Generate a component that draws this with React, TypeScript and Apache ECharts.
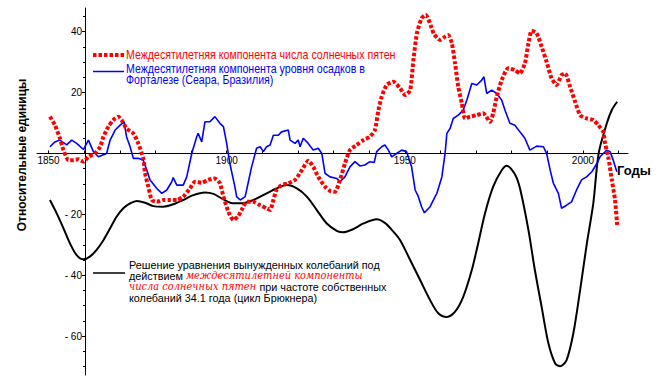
import React, { useEffect, useRef } from "react";
import * as echarts from "echarts";

// ---- Data ----
const sunYears = [
  1850.4, 1851.8, 1853.2, 1854.2, 1855.6, 1857.0, 1858.4, 1859.8, 1861.2, 1863.0,
  1864.5, 1865.4, 1866.8, 1868.2, 1869.6, 1870.5, 1871.9, 1873.8, 1875.2, 1876.6,
  1877.1, 1878.0, 1879.0, 1880.4, 1882.2, 1884.1, 1886.0, 1887.8, 1889.7, 1891.1,
  1893.0, 1894.8, 1896.7, 1898.1, 1899.1, 1900.5, 1901.9, 1903.3, 1904.2, 1905.6,
  1907.5, 1909.4, 1911.2, 1912.2, 1913.1, 1914.0, 1915.4, 1917.3, 1919.2, 1921.1,
  1922.9, 1924.3, 1925.7, 1927.6, 1929.0, 1930.4, 1931.8, 1933.2, 1934.6, 1936.5,
  1938.4, 1940.2, 1941.6, 1942.6, 1943.5, 1944.9, 1946.8, 1948.7, 1950.1, 1951.5,
  1952.4, 1953.4, 1954.7, 1955.9, 1957.3, 1958.2, 1959.9, 1961.3, 1962.2, 1963.2,
  1964.1, 1965.0, 1966.0, 1966.9, 1968.3, 1970.2, 1972.0, 1973.9, 1974.8, 1975.8,
  1977.2, 1979.0, 1980.9, 1982.3, 1983.7, 1984.7, 1985.6, 1987.0, 1988.4, 1989.8,
  1991.2, 1992.6, 1994.0, 1995.0, 1996.4, 1997.8, 1999.2, 2001.0, 2002.9, 2004.3,
  2005.7, 2006.2, 2007.1, 2008.1, 2009.0, 2009.6,
];
const sunValues = [
  12.1, 9.3, 5.0, 1.1, -2.2, -2.2, -1.9, -2.7, -1.1, 0,
  2.2, 5.5, 8.8, 11, 12.1, 11, 8.2, 6.6, 3.3, -1.6,
  -6.5, -10.9, -15.3, -15.9, -15.3, -15.3, -15.3, -14.2, -11.5, -9.3,
  -9.6, -8.7, -8.2, -9.8, -14.2, -19.2, -21.9, -20.5, -18.6, -15.9,
  -15.9, -17, -18, -18.6, -15.3, -12, -10.4, -9.8, -8.7, -5.5,
  -2.4, -4.4, -7.7, -10.9, -12.3, -12.6, -8.7, -3.3, 1.1, 2.8,
  4.4, 5.5, 7.7, 14.3, 18.6, 22.5, 23.6, 21.4, 19.2, 20.8,
  30.7, 39.5, 44.4, 45.5, 42, 39.2, 37.3, 38.4, 38.9, 36.2,
  29.6, 21.9, 16.5, 11.5, 12.1, 12.6, 13.2, 10.4, 13.2, 18.6,
  24.1, 28, 27.4, 26.3, 29.6, 36.2, 40.3, 39.5, 35.1, 30.1,
  24.7, 22.5, 25.8, 26.3, 21.9, 17, 12.6, 11.5, 11, 9.3,
  7.1, 3.3, -1.1, -8.7, -15.3, -23.5,
];

const rainYears = [
  1850.4, 1851.8, 1853.2, 1855.1, 1856.5, 1857.9, 1859.8, 1861.2, 1862.6, 1864.0,
  1866.3, 1867.3, 1868.7, 1870.1, 1871.2, 1871.9, 1872.9, 1873.8, 1875.2, 1876.6,
  1877.6, 1878.5, 1880.4, 1881.8, 1883.2, 1884.6, 1885.0, 1886.0, 1887.8, 1888.8,
  1890.2, 1891.6, 1892.0, 1893.0, 1893.9, 1895.3, 1896.7, 1898.1, 1899.1, 1900.0,
  1900.9, 1902.3, 1902.8, 1903.8, 1905.2, 1906.1, 1907.0, 1908.4, 1909.4, 1910.3,
  1911.2, 1912.2, 1913.1, 1914.5, 1915.4, 1917.3, 1917.8, 1919.2, 1920.1, 1920.6,
  1921.5, 1922.9, 1924.3, 1925.7, 1926.7, 1927.6, 1929.0, 1930.9, 1931.8, 1933.2,
  1934.6, 1936.0, 1937.4, 1938.8, 1940.2, 1941.4, 1942.1, 1943.5, 1944.4, 1945.4,
  1946.3, 1947.7, 1949.1, 1950.5, 1951.9, 1952.9, 1953.8, 1954.7, 1955.5, 1957.1,
  1958.5, 1959.0, 1960.4, 1961.3, 1961.8, 1962.7, 1963.6, 1965.0, 1966.4, 1967.4,
  1968.8, 1970.2, 1971.6, 1972.2, 1973.0, 1974.4, 1975.8, 1977.2, 1978.1, 1979.5,
  1980.9, 1982.3, 1983.7, 1985.1, 1987.0, 1988.9, 1989.8, 1990.8, 1991.7, 1993.1,
  1994.0, 1995.4, 1996.8, 1998.2, 1999.6, 2001.0, 2002.5, 2003.9, 2004.8, 2005.7,
  2006.7, 2007.6, 2008.5, 2009.5,
];
const rainValues = [
  2.2, 3.8, 4.4, 2.8, 4.4, 3.3, 1.3, 4.4, 0.6, -1.1,
  0, 4.4, 7.7, 9.3, 10.4, 5.5, 2.2, -1.6, -1.6, -2.2,
  -5.5, -8.7, -11.5, -13.1, -12, -9.3, -7.9, -10.4, -10.4, -7.7,
  0, 5.5, 6.6, 3.8, 10.4, 10.4, 12.1, 9.9, 8.8, 3.3,
  -3.3, -10.9, -14.2, -15.3, -14.2, -9.3, -4.4, 1.7, 2.2, 0.6,
  2.2, 2.8, 6, 6, 7.1, 7.7, 4.4, 3.3, 4.4, 2.2,
  5, 3.3, 1.1, 1.7, 0, -6.5, -7.7, -8.2, -9.3, -7.7,
  -4.4, -2.7, -4.1, -3.8, -2.7, -3, 0.6, 2.2, 2.8, 1.1,
  -1.1, 0, 1.1, 0.6, -4.4, -12, -14.2, -17.5, -19.5, -17.5,
  -14.2, -13.1, -7.7, 0, 6.6, 8.2, 11.5, 12.6, 14.3, 17.5,
  23, 22.5, 24.1, 25.2, 19.7, 20.8, 19.7, 17.5, 14.3, 9.9,
  9.3, 7.1, 5, 1.1, 2.4, 2.2, 0, -5.5, -9.8, -13.1,
  -18, -17, -15.9, -12, -8.7, -7.7, -6, -3.3, -1.1, 0,
  1.1, 0.6, -2.2, -6,
];

const modelYears = [
  1850.4, 1852.3, 1854.2, 1856.0, 1857.9, 1859.8, 1861.6, 1863.5, 1865.4, 1867.3,
  1869.1, 1871.0, 1872.9, 1874.8, 1877.1, 1879.4, 1882.2, 1885.0, 1887.8, 1890.6,
  1893.9, 1896.3, 1899.1, 1901.9, 1904.2, 1907.5, 1911.2, 1914.0, 1916.9, 1919.7,
  1922.5, 1925.3, 1928.1, 1930.9, 1932.7, 1935.5, 1938.4, 1942.1, 1944.4, 1946.8,
  1948.7, 1951.5, 1954.3, 1957.1, 1959.4, 1961.8, 1964.1, 1966.4, 1968.8, 1970.6,
  1972.5, 1974.8, 1977.2, 1978.6, 1979.8, 1981.4, 1982.6, 1984.7, 1986.5, 1988.4,
  1990.3, 1992.2, 1993.6, 1995.4, 1997.3, 1999.2, 2001.1, 2002.9, 2004.4, 2006.7,
  2008.1, 2009.6,
];
const modelValues = [
  -15.3, -19.7, -24.6, -29.5, -33.4, -34.8, -33.9, -31.7, -28.5, -24.6,
  -20.8, -18, -16.4, -15.6, -16.2, -17.3, -17.5, -16.7, -15.3, -13.7,
  -12.8, -13.3, -15.1, -16.4, -16.4, -15.3, -13.1, -11.5, -10.4, -11.5,
  -14.2, -18.6, -23, -25.4, -25.9, -24.9, -23, -21.6, -22.8, -25.7,
  -28.5, -35, -41.6, -48.2, -52.5, -53.7, -52, -47.1, -38.3, -29.5,
  -19.7, -10.9, -5.5, -4.0, -5.0, -8.0, -12.8, -25.2, -38.3, -50.4,
  -62.4, -69, -69.9, -67.9, -59.1, -44.9, -29.5, -16.4, 0, 9.9,
  14.3, 17,
];

const xTickYears = [1850, 1860, 1870, 1880, 1890, 1900, 1910, 1920, 1930, 1940, 1950, 1960, 1970, 1980, 1990, 2000, 2010];
const xLabelYears = [1850, 1900, 1950, 2000];
const yMajorTicks = [-60, -40, -20, 0, 20, 40];
const yLabelValues = [-60, -40, -20, 20, 40];
const yMinorTicks = [-70, -65, -55, -50, -45, -35, -30, -25, -15, -10, -5, 5, 10, 15, 25, 30, 35, 45];

const legendSun = "Междесятилетняя компонента числа солнечных пятен";
const legendRain = "Междесятилетняя компонента уровня осадков в\nФорталезе (Сеара, Бразилия)";
const yName = "Относительные единицы";
const xName = "Годы";

const zip = (xs: number[], ys: number[]) => xs.map((x, i) => [x, ys[i]]);

const SANS = '"Liberation Sans", Arial, sans-serif';

function buildOption() {
  const yBase = {
    type: "value",
    position: "left",
    min: -72.8,
    max: 47.8,
    offset: -48,
    splitLine: { show: false },
  };
  return {
    animation: false,
    backgroundColor: "#ffffff",
    grid: { left: 37, right: 36, top: 8, bottom: 6, containLabel: false },
    xAxis: {
      type: "value",
      position: "bottom",
      min: 1846.77,
      max: 2012.64,
      offset: -221.5,
      axisLine: { show: true, onZero: false, lineStyle: { color: "#000", width: 1 } },
      axisTick: {
        show: true,
        inside: true,
        length: 3,
        customValues: xTickYears,
        lineStyle: { color: "#000", width: 1 },
      },
      axisLabel: {
        customValues: xLabelYears,
        margin: 2,
        fontSize: 10,
        fontFamily: SANS,
        color: "#000",
        formatter: (v: number) => String(v),
      },
      splitLine: { show: false },
    },
    yAxis: [
      {
        ...yBase,
        axisLine: { show: true, onZero: false, lineStyle: { color: "#000", width: 1 } },
        axisTick: { show: true, length: 3, customValues: yMajorTicks, lineStyle: { color: "#000" } },
        axisLabel: {
          customValues: yLabelValues,
          margin: 3,
          fontSize: 10,
          fontFamily: SANS,
          color: "#000",
          formatter: (v: number) => (v < 0 ? "- " + Math.abs(v) : String(v)),
        },
      },
      {
        ...yBase,
        axisLine: { show: false, onZero: false },
        axisTick: { show: true, length: 2, customValues: yMinorTicks, lineStyle: { color: "#000" } },
        axisLabel: { show: false },
      },
    ],
    series: [
      {
        type: "line",
        data: zip(modelYears, modelValues),
        showSymbol: false,
        smooth: 0.3,
        lineStyle: { color: "#000000", width: 2 },
        z: 2,
      },
      {
        type: "line",
        data: zip(rainYears, rainValues),
        showSymbol: false,
        lineStyle: { color: "#0000ff", width: 1.6 },
        z: 3,
      },
      {
        type: "line",
        data: zip(sunYears, sunValues),
        showSymbol: false,
        smooth: 0.2,
        lineStyle: { color: "#ff0000", width: 4, type: [3.5, 2] },
        z: 4,
      },
    ],
    graphic: [
      {
        type: "line",
        shape: { x1: 93, y1: 55, x2: 125, y2: 55 },
        style: { stroke: "#ff0000", lineWidth: 4, lineDash: [3.5, 2] },
      },
      {
        type: "text",
        x: 126,
        y: 55,
        scaleX: 0.885,
        style: { text: legendSun, fill: "#ff0000", fontSize: 12, fontFamily: SANS, verticalAlign: "middle" },
      },
      {
        type: "line",
        shape: { x1: 93, y1: 71.5, x2: 124, y2: 71.5 },
        style: { stroke: "#0000ff", lineWidth: 1.5 },
      },
      {
        type: "text",
        x: 126,
        y: 62.5,
        scaleX: 0.885,
        style: { text: legendRain, fill: "#0000ff", fontSize: 12, fontFamily: SANS, lineHeight: 11.8, verticalAlign: "top" },
      },
      {
        type: "line",
        shape: { x1: 93, y1: 273, x2: 125, y2: 273 },
        style: { stroke: "#000000", lineWidth: 1.5 },
      },
      {
        type: "text",
        x: 129,
        y: 259.6,
        scaleX: 0.94,
        style: {
          text:
            "{b|Решение уравнения вынужденных колебаний под}\n" +
            "{b|действием }{r|междесятилетней компоненты}\n" +
            "{r|числа солнечных пятен}{b| при частоте собственных}\n" +
            "{b|колебаний 34.1 года (цикл Брюкнера)}",
          verticalAlign: "top",
          rich: {
            b: { fill: "#000", fontSize: 11.5, fontFamily: SANS, lineHeight: 10.8 },
            r: { fill: "#ff0000", fontSize: 10.5, fontStyle: "italic", fontFamily: '"DejaVu Serif", serif', lineHeight: 10.8 },
          },
        },
      },
      {
        type: "text",
        x: 22,
        y: 155,
        rotation: Math.PI / 2,
        style: {
          text: yName,
          fill: "#000",
          fontSize: 12,
          fontWeight: "bold",
          fontFamily: SANS,
          align: "center",
          verticalAlign: "middle",
        },
      },
      {
        type: "text",
        x: 617,
        y: 170,
        style: {
          text: xName,
          fill: "#000",
          fontSize: 13,
          fontWeight: "bold",
          fontFamily: SANS,
          verticalAlign: "middle",
        },
      },
    ],
  };
}

export default function App() {
  const ref = useRef<HTMLDivElement>(null);
  useEffect(() => {
    if (!ref.current) return;
    const chart = echarts.init(ref.current, null, { renderer: "svg" });
    chart.setOption(buildOption() as any);
    return () => chart.dispose();
  }, []);
  return (
    <div
      ref={ref}
      style={{ position: "absolute", left: 0, top: 0, width: 664, height: 381, background: "#fff" }}
    />
  );
}
